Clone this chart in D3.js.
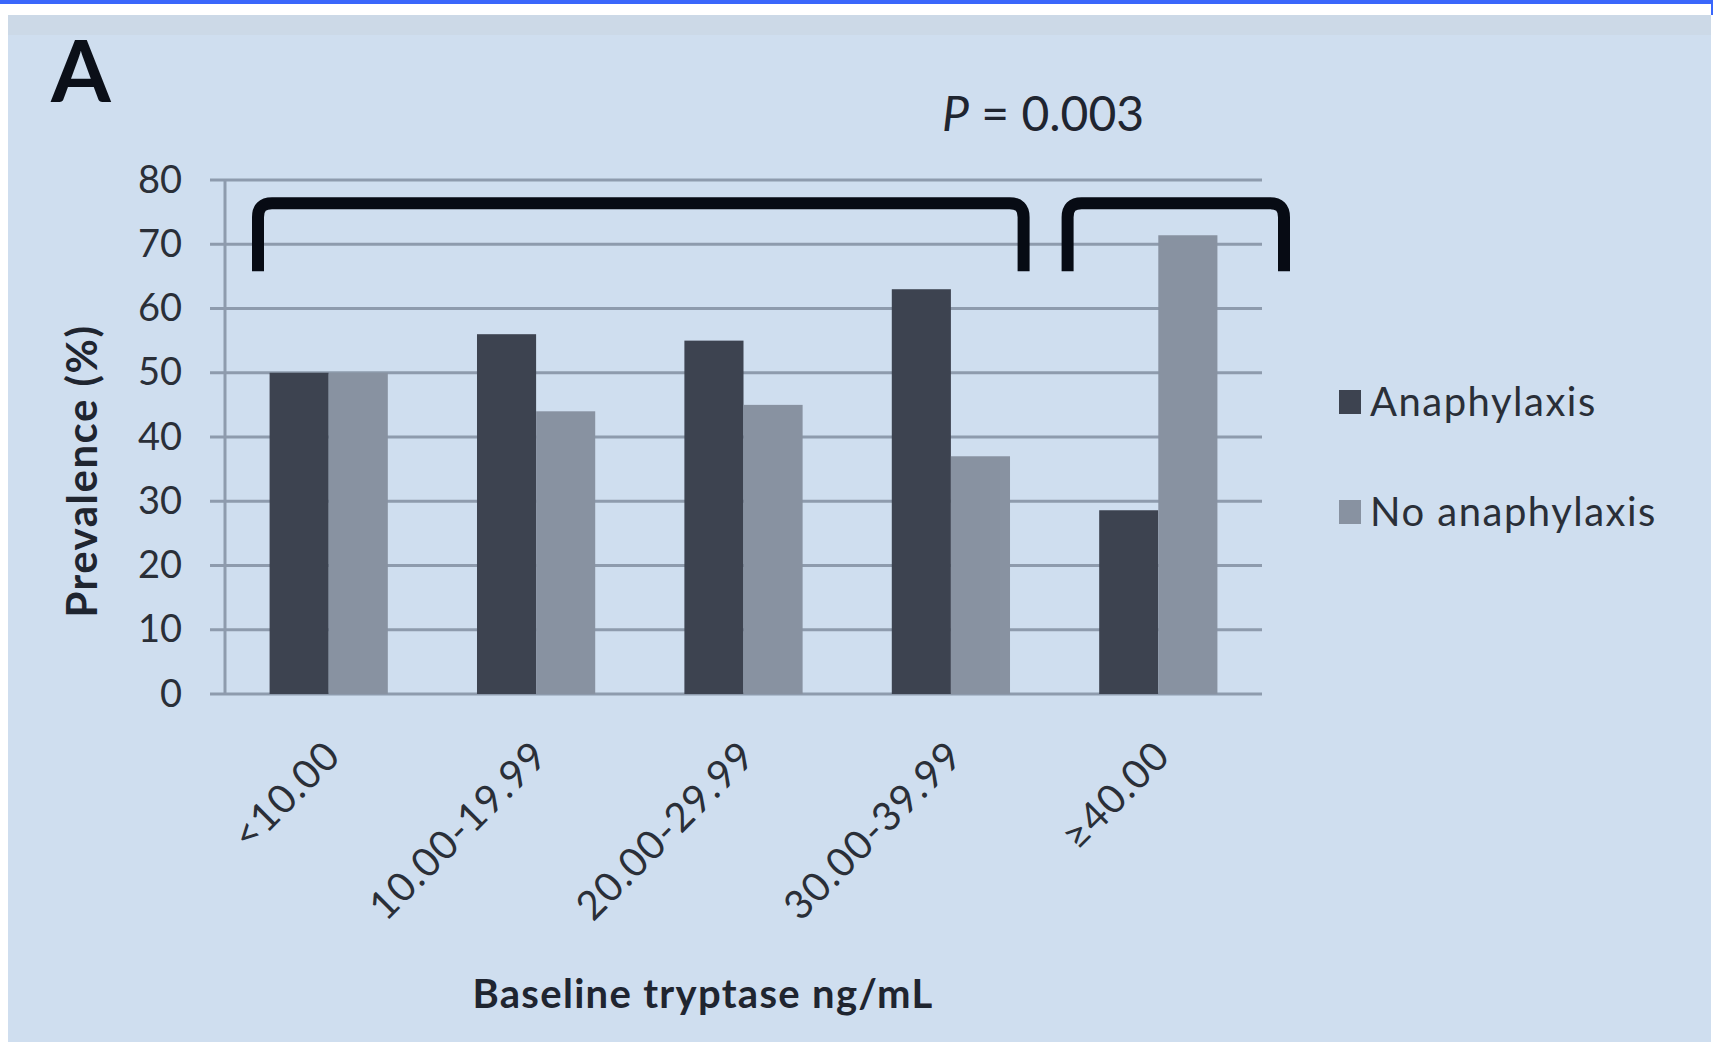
<!DOCTYPE html>
<html>
<head>
<meta charset="utf-8">
<script src="https://cdn.jsdelivr.net/npm/d3@7"></script>
<style>
  body { margin: 0; background: #fff; overflow: hidden; }
  text { font-family: Lato, "Open Sans", sans-serif; }
</style>
</head>
<body>
<div id="chart"></div>
<script>
// Data
const categories = ["<10.00", "10.00-19.99", "20.00-29.99", "30.00-39.99", "\u226540.00"];
const seriesNames = ["Anaphylaxis", "No anaphylaxis"];
const anaphylaxis = [50, 56, 55, 63, 28.6];
const noAnaphylaxis = [50, 44, 45, 37, 71.4];
const yTicks = [0, 10, 20, 30, 40, 50, 60, 70, 80];
const colors = ["#3d4350", "#8892a1"];

const width = 1713;
const height = 1042;
const margin = { top: 180, right: 451, bottom: 348, left: 225 };

const rows = categories.map((c, i) => ({
  cat: c,
  values: [
    { key: seriesNames[0], value: anaphylaxis[i] },
    { key: seriesNames[1], value: noAnaphylaxis[i] }
  ]
}));

const svg = d3
  .select("#chart")
  .append("svg")
  .attr("width", width)
  .attr("height", height);

// panel background
svg.append("rect").attr("x", 0).attr("y", 0).attr("width", width).attr("height", height).attr("fill", "#ffffff");
svg.append("rect").attr("x", 8).attr("y", 15).attr("width", width - 10).attr("height", height - 15).attr("fill", "#cfdeef");
svg.append("rect").attr("x", 8).attr("y", 15).attr("width", width - 10).attr("height", 20).attr("fill", "#ccd9e7");
svg.append("rect").attr("x", 0).attr("y", 0).attr("width", width).attr("height", 4).attr("fill", "#3a67fb");
svg.append("rect").attr("x", width - 2).attr("y", 0).attr("width", 2).attr("height", 15).attr("fill", "#3a67fb");

const x0 = d3
  .scaleBand()
  .domain(categories)
  .range([margin.left, width - margin.right])
  .padding(0);

const bw = x0.bandwidth();
const x1 = d3
  .scaleBand()
  .domain(seriesNames)
  .range([bw * 0.215, bw * 0.785])
  .padding(0);

const y = d3
  .scaleLinear()
  .domain([0, 80])
  .range([height - margin.bottom, margin.top]);

const color = d3.scaleOrdinal().domain(seriesNames).range(colors);

// gridlines
svg
  .append("g")
  .selectAll("line")
  .data(yTicks)
  .enter()
  .append("line")
  .attr("x1", margin.left - 15)
  .attr("x2", width - margin.right)
  .attr("y1", (d) => y(d))
  .attr("y2", (d) => y(d))
  .attr("stroke", "#8e9bad")
  .attr("stroke-width", 3);

// y axis line
svg
  .append("line")
  .attr("x1", margin.left)
  .attr("x2", margin.left)
  .attr("y1", y(80))
  .attr("y2", y(0))
  .attr("stroke", "#8e9bad")
  .attr("stroke-width", 3);

// Bars
svg
  .append("g")
  .selectAll("g")
  .data(rows)
  .enter()
  .append("g")
  .attr("transform", (d) => `translate(${x0(d.cat)},0)`)
  .selectAll("rect")
  .data((d) => d.values)
  .enter()
  .append("rect")
  .attr("x", (d) => x1(d.key))
  .attr("width", x1.bandwidth())
  .attr("y", (d) => y(d.value))
  .attr("height", (d) => y(0) - y(d.value))
  .attr("fill", (d) => color(d.key));

// Y tick labels
const yAxis = svg
  .append("g")
  .attr("transform", `translate(${margin.left},0)`)
  .call(d3.axisLeft(y).tickValues(yTicks).tickSize(0).tickPadding(43));
yAxis.select(".domain").remove();
yAxis
  .selectAll("text")
  .attr("font-family", "Lato, sans-serif")
  .attr("font-size", "38px")
  .attr("fill", "#2a2f38");

// X tick labels (rotated)
const xAxis = svg
  .append("g")
  .attr("transform", `translate(0,${y(0)})`)
  .call(d3.axisBottom(x0).tickSize(0).tickPadding(0));
xAxis.select(".domain").remove();
xAxis
  .selectAll("text")
  .attr("font-family", "Lato, sans-serif")
  .attr("font-size", "40px")
  .attr("letter-spacing", "1.2px")
  .attr("fill", "#2a2f38")
  .attr("text-anchor", "end")
  .attr("dy", "0")
  .attr("transform", "translate(14,64) rotate(-45)");

// Brackets
function bracket(xa, xb, yTop, yBot, r) {
  return `M${xa},${yBot} L${xa},${yTop + r} Q${xa},${yTop} ${xa + r},${yTop} L${xb - r},${yTop} Q${xb},${yTop} ${xb},${yTop + r} L${xb},${yBot}`;
}
const bracketSpans = [
  [x0(categories[0]) + 33, x0(categories[3]) + bw - 31],
  [x0(categories[4]) + 13, x0(categories[4]) + bw + 22]
];
svg
  .append("g")
  .selectAll("path")
  .data(bracketSpans)
  .enter()
  .append("path")
  .attr("d", (d) => bracket(d[0], d[1], y(76.4), y(65.8), 14))
  .attr("fill", "none")
  .attr("stroke", "#070b14")
  .attr("stroke-width", 12);

// P value
const pText = svg
  .append("text")
  .attr("x", 942)
  .attr("y", 131)
  .attr("font-size", "48px")
  .attr("fill", "#1f2530");
pText.append("tspan").attr("font-style", "italic").text("P");
pText.append("tspan").text(" = 0.003");

// Panel letter
svg
  .append("text")
  .attr("x", 51)
  .attr("y", 102)
  .attr("font-family", "'Liberation Sans', Arial, sans-serif")
  .attr("font-weight", "bold")
  .attr("font-size", "86px")
  .attr("fill", "#0b0f18")
  .text("A");

// Axis titles
svg
  .append("text")
  .attr("transform", `translate(82,471) rotate(-90)`)
  .attr("text-anchor", "middle")
  .attr("dy", "0.35em")
  .attr("font-size", "42px")
  .attr("letter-spacing", "1.5px")
  .attr("font-weight", "bold")
  .attr("fill", "#1f2530")
  .text("Prevalence (%)");

svg
  .append("text")
  .attr("x", 703)
  .attr("y", 1008)
  .attr("text-anchor", "middle")
  .attr("font-size", "40px")
  .attr("letter-spacing", "1.3px")
  .attr("font-weight", "bold")
  .attr("fill", "#1f2530")
  .text("Baseline tryptase ng/mL");

// Legend
const legend = svg
  .append("g")
  .selectAll("g")
  .data(seriesNames)
  .enter()
  .append("g")
  .attr("transform", (d, i) => `translate(1339,${402 + i * 110})`);
legend
  .append("rect")
  .attr("x", 0)
  .attr("y", -12)
  .attr("width", 22)
  .attr("height", 24)
  .attr("fill", (d) => color(d));
legend
  .append("text")
  .attr("x", 31)
  .attr("dy", "0.35em")
  .attr("font-size", "40px")
  .attr("letter-spacing", "1.5px")
  .attr("fill", "#2a2f38")
  .text((d) => d);
</script>
</body>
</html>
